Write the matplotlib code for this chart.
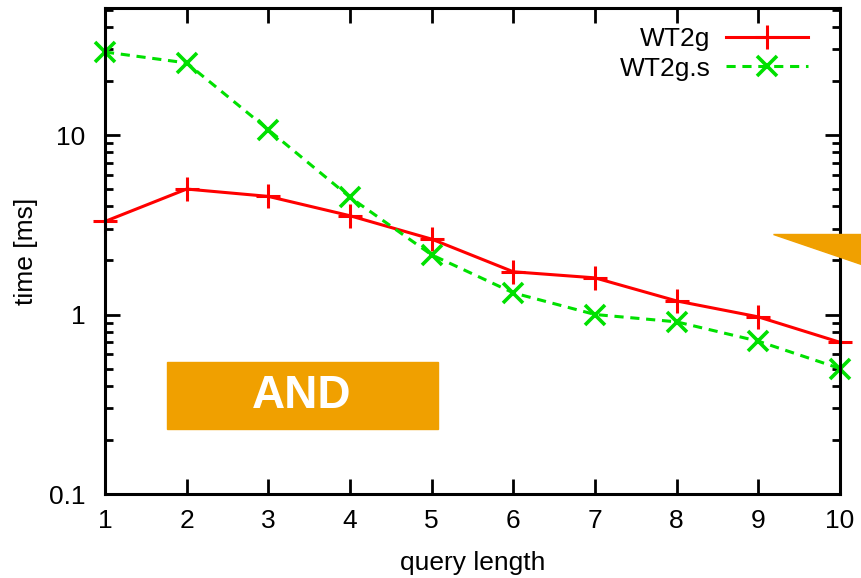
import matplotlib.pyplot as plt
from matplotlib.patches import Polygon, Rectangle
from matplotlib.ticker import LogLocator, NullFormatter, FixedLocator, FixedFormatter

plt.rcParams['font.family'] = ['Liberation Sans', 'DejaVu Sans']

# query length vs. time per query
query_length = [1, 2, 3, 4, 5, 6, 7, 8, 9, 10]
wt2g = [3.3, 5.0, 4.55, 3.55, 2.63, 1.73, 1.6, 1.19, 0.97, 0.70]
wt2g_s = [29.0, 25.2, 10.7, 4.5, 2.15, 1.32, 1.0, 0.91, 0.71, 0.50]
ytick_vals = [0.1, 1, 10]
ytick_labels = ['0.1', '1', '10']

fig = plt.figure(figsize=(8.61, 5.78), dpi=100)
ax = fig.add_axes([105 / 861, 1 - 494 / 578, 735 / 861, 486 / 578])

ax.plot(query_length, wt2g, color='#ff0000', lw=2.2, marker='+', ms=17, mew=2.2,
        label='WT2g', clip_on=False, zorder=3)
ax.plot(query_length, wt2g_s, color='#00e000', lw=2.2, ls=(0, (3, 2.2)), marker='x',
        ms=14, mew=2.6, label='WT2g.s', clip_on=False, zorder=3)

ax.set_yscale('log')
ax.set_xlim(1, 10)
ax.set_ylim(0.1, 51)
ax.set_xticks(query_length)
ax.yaxis.set_major_locator(FixedLocator(ytick_vals))
ax.yaxis.set_major_formatter(FixedFormatter(ytick_labels))
ax.yaxis.set_minor_locator(LogLocator(base=10, subs=range(2, 10)))
ax.yaxis.set_minor_formatter(NullFormatter())

ax.tick_params(which='both', direction='in', top=True, right=True, width=2.0,
               labelsize=19, colors='black')
ax.tick_params(which='major', length=11)
ax.tick_params(axis='x', which='major', pad=11)
ax.tick_params(axis='y', which='major', pad=14)
ax.tick_params(which='minor', length=6)
for s in ax.spines.values():
    s.set_linewidth(2.2)
    s.set_zorder(5)

ax.set_xlabel('query length', fontsize=19, labelpad=13)
ax.set_ylabel('time [ms]', fontsize=19, labelpad=8)

leg = ax.legend(loc='upper right', frameon=False, fontsize=19, markerfirst=False,
                handlelength=3.1, borderaxespad=0.2, handletextpad=0.6,
                labelspacing=0.2, bbox_to_anchor=(0.978, 0.993))
for t in leg.get_texts():
    t.set_ha('right')

# orange label box and pointer
fig.patches.append(Rectangle((167 / 861, 1 - 429 / 578), 271 / 861, 67 / 578,
                             transform=fig.transFigure, color='#f0a000', zorder=10))
fig.text(302 / 861, 1 - 396 / 578, 'AND', color='white', fontsize=33,
         fontweight='bold', ha='center', va='center', zorder=11)
fig.patches.append(Polygon([(773 / 861, 1 - 234 / 578), (1.0, 1 - 234 / 578),
                            (1.0, 1 - 264 / 578)], closed=True,
                           transform=fig.transFigure, color='#f0a000', zorder=10))

fig.savefig('out.png', dpi=100)
